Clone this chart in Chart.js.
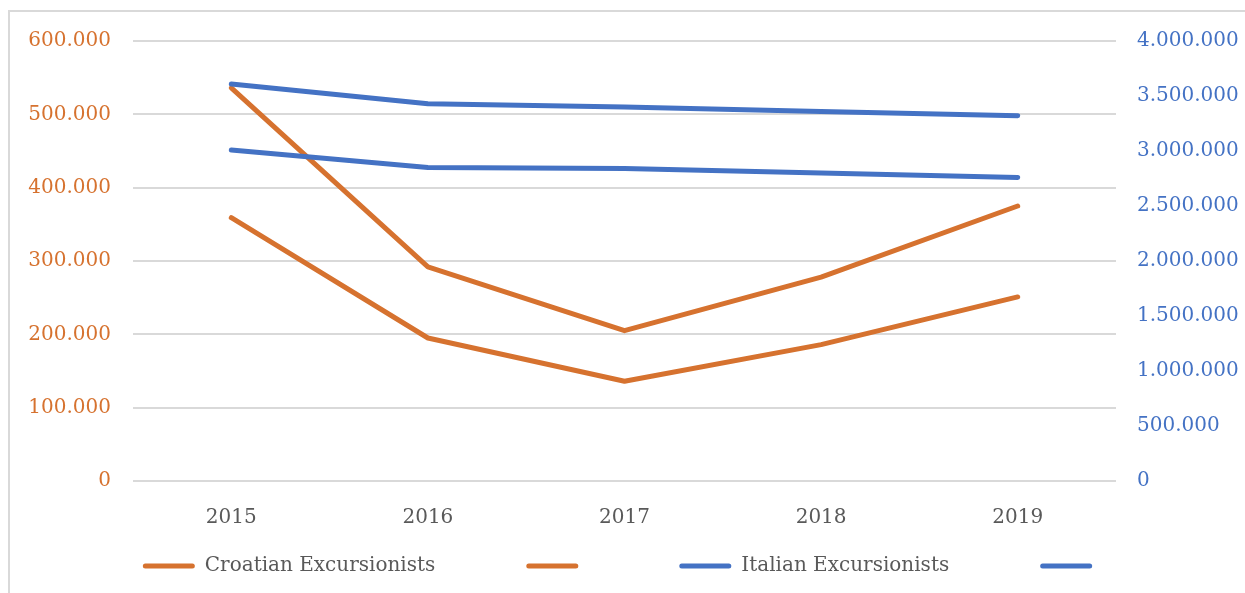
<!DOCTYPE html>
<html>
<head>
<meta charset="utf-8">
<script src="https://cdn.jsdelivr.net/npm/chart.js@4"></script>
<style>
    html, body { margin: 0; padding: 0; background: #fff; }
    #wrap { position: relative; width: 1245px; height: 593px; overflow: hidden; }
    #frame { position: absolute; left: 8px; top: 10px; width: 1300px; height: 700px; border: 2px solid #d9d9d9; }
    canvas { position: absolute; left: 0; top: 0; }
</style>
</head>
<body>
<div id="wrap">
    <div id="frame"></div>
    <canvas id="chart" width="1245" height="593"></canvas>
</div>
<script>
const years = ['2015', '2016', '2017', '2018', '2019'];

const croatianA = [536000, 292000, 205000, 278000, 375000];
const croatianB = [359000, 195000, 136000, 186000, 251000];
const italianA = [3610000, 3430000, 3400000, 3360000, 3320000];
const italianB = [3010000, 2850000, 2840000, 2800000, 2760000];

const orange = '#D6722F';
const blue = '#4472C4';
const grey = '#595959';
const serif = 'DejaVu Serif';

const dots = v => String(v).replace(/\B(?=(\d{3})+(?!\d))/g, '.');

const line = (label, data, color, axis, order) => ({
    label: label,
    data: data,
    yAxisID: axis,
    borderColor: color,
    backgroundColor: color,
    borderWidth: 5,
    borderCapStyle: 'round',
    borderJoinStyle: 'round',
    pointRadius: 0,
    fill: false,
    tension: 0,
    order: order
});

// the legend's item padding is also used above the row, so pull it back up under the axis
const legendShift = {
    id: 'legendShift',
    afterLayout(chart) {
        const lg = chart.legend;
        lg.top = chart.scales.x.bottom - 76;
        lg.bottom = chart.height;
        lg.height = lg.bottom - lg.top;
    }
};

new Chart(document.getElementById('chart'), {
    type: 'line',
    data: {
        labels: years,
        datasets: [
            line('Croatian Excursionists', croatianA, orange, 'y', 1),
            line('', croatianB, orange, 'y', 1),
            line('Italian Excursionists', italianA, blue, 'y1', 0),
            line('', italianB, blue, 'y1', 0)
        ]
    },
    plugins: [legendShift],
    options: {
        responsive: false,
        animation: false,
        layout: { padding: { top: 41, bottom: 12 } },
        plugins: {
            tooltip: { enabled: false },
            legend: {
                position: 'bottom',
                maxHeight: 40,
                labels: {
                    color: grey,
                    font: { family: serif, size: 20 },
                    boxWidth: 52,
                    boxHeight: 5,
                    padding: 91,
                    useBorderRadius: true,
                    borderRadius: 2.5,
                    sort: (a, b) => a.datasetIndex - b.datasetIndex,
                    generateLabels: chart =>
                        Chart.defaults.plugins.legend.labels.generateLabels(chart)
                            .map(item => Object.assign(item, { lineWidth: 0 }))
                }
            }
        },
        scales: {
            x: {
                offset: true,
                grid: { display: false },
                border: { display: false },
                ticks: {
                    color: grey,
                    font: { family: serif, size: 20 },
                    padding: 17
                },
                afterFit: scale => { scale.height = 60; }
            },
            y: {
                position: 'left',
                min: 0,
                max: 600000,
                grid: { color: '#d9d9d9', lineWidth: 2, drawTicks: false },
                border: { display: false },
                ticks: {
                    stepSize: 100000,
                    color: orange,
                    font: { family: serif, size: 20 },
                    padding: 22,
                    callback: v => dots(v)
                },
                afterFit: scale => { scale.width = 133; }
            },
            y1: {
                position: 'right',
                min: 0,
                max: 4000000,
                grid: { display: false },
                border: { display: false },
                ticks: {
                    stepSize: 500000,
                    color: blue,
                    font: { family: serif, size: 20 },
                    padding: 13,
                    callback: v => dots(v)
                },
                afterFit: scale => { scale.width = 129; }
            }
        }
    }
});
</script>
</body>
</html>
